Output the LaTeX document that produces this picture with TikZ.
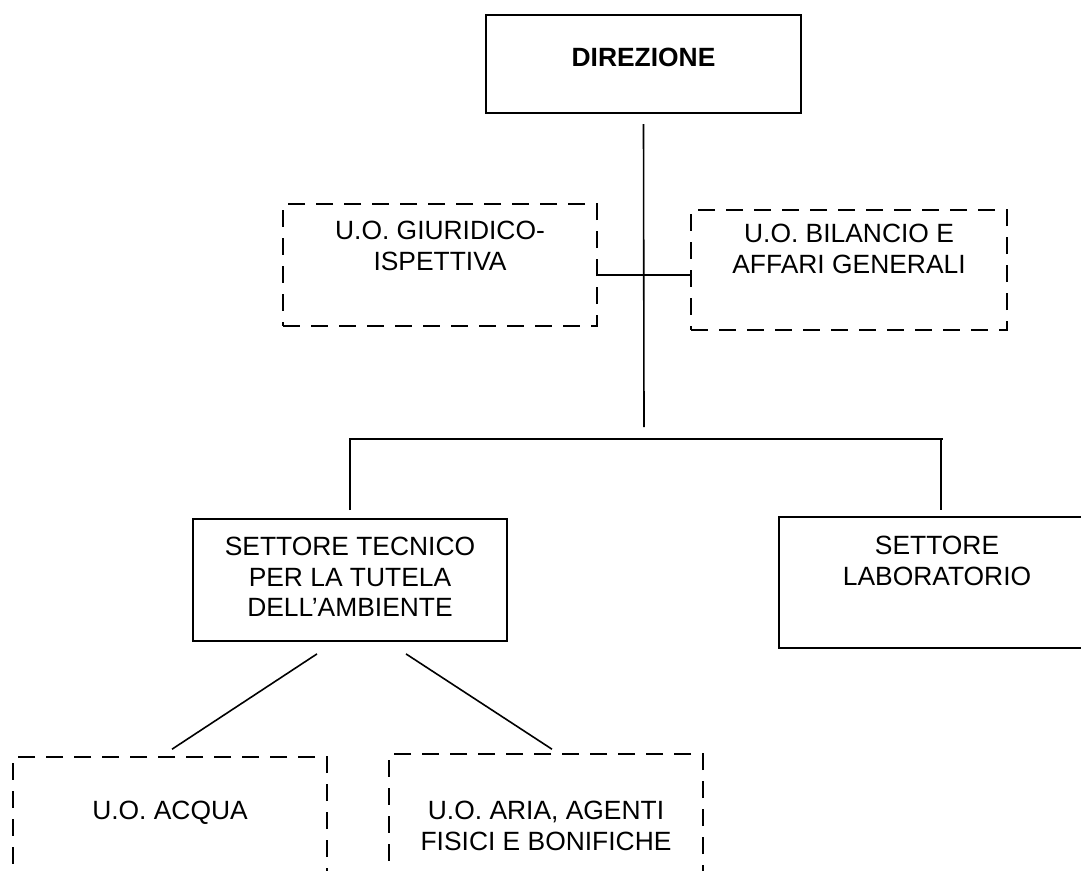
\documentclass[tikz,border=0pt]{standalone}
\usepackage{fontspec}
\setmainfont{Liberation Sans}
\usetikzlibrary{positioning}

\newcommand{\orgfont}{\fontsize{26.4}{30.5}\selectfont}

\begin{document}
\begin{tikzpicture}[
    x=1pt, y=-1pt,
    unitbox/.style={
        rectangle, draw=black, line width=1.8pt, inner sep=0pt,
        minimum width=314pt, minimum height=122pt
    },
    office/.style={unitbox, line width=1.6pt, dash pattern=on 17pt off 11pt},
    boxtext/.style={font=\orgfont, align=center, inner sep=0pt},
    link/.style={line width=1.6pt, color=black}
]
    \useasboundingbox (0,0) rectangle (1081,870);
    \clip (0,0) rectangle (1081,870);
    % Nodes
    \node (dir) [unitbox, minimum width=315pt, minimum height=98pt, line width=2pt] at (643.5,64) {};
    \node (giur) [office] at (440,265) {};
    \node (bil) [office, minimum width=316pt, minimum height=120pt] at (849,270) {};
    \node (tec) [unitbox] at (350,580) {};
    \node (lab) [unitbox, minimum width=316pt, minimum height=131pt] at (937,582.5) {};
    \node (acq) [office] at (170,818) {};
    \node (aria) [office] at (546,815) {};
    % Labels
    \node (dirtext) [boxtext, font=\orgfont\bfseries, below=34pt of dir.north] {DIREZIONE};
    \node (giurtext) [boxtext, below=18pt of giur.north] {U.O. GIURIDICO-\\ISPETTIVA};
    \node (biltext) [boxtext, below=15pt of bil.north] {U.O. BILANCIO E\\AFFARI GENERALI};
    \node (tectext) [boxtext, below=19pt of tec.north] {SETTORE TECNICO\\PER LA TUTELA\\DELL’AMBIENTE};
    \node (labtext) [boxtext, below=20pt of lab.north] {SETTORE\\LABORATORIO};
    \node (acqtext) [boxtext, below=45pt of acq.north] {U.O. ACQUA};
    \node (ariatext) [boxtext, below=48pt of aria.north] {U.O. ARIA, AGENTI\\FISICI E BONIFICHE};
    % Connections
    \coordinate (trunkend) at (644,427);
    \coordinate (staff) at (644,275);
    \coordinate (bus) at (644,439);
    \draw [link] ([yshift=-10pt]dir.south) -- (trunkend);
    \draw [link] (giur.east |- staff) -- (bil.west |- staff);
    \draw [link, line width=2.2pt] ([yshift=8pt]tec.north) -- (tec.north |- bus) -- ([xshift=6pt]lab.north |- bus);
    \draw [link] ([xshift=4pt]lab.north |- bus) -- ([xshift=4pt,yshift=6pt]lab.north);
    \draw [link] ([xshift=-33pt,yshift=-12pt]tec.south) -- ([xshift=2pt,yshift=7pt]acq.north);
    \draw [link] ([xshift=56pt,yshift=-12pt]tec.south) -- ([xshift=6pt,yshift=4pt]aria.north);
\end{tikzpicture}
\end{document}
